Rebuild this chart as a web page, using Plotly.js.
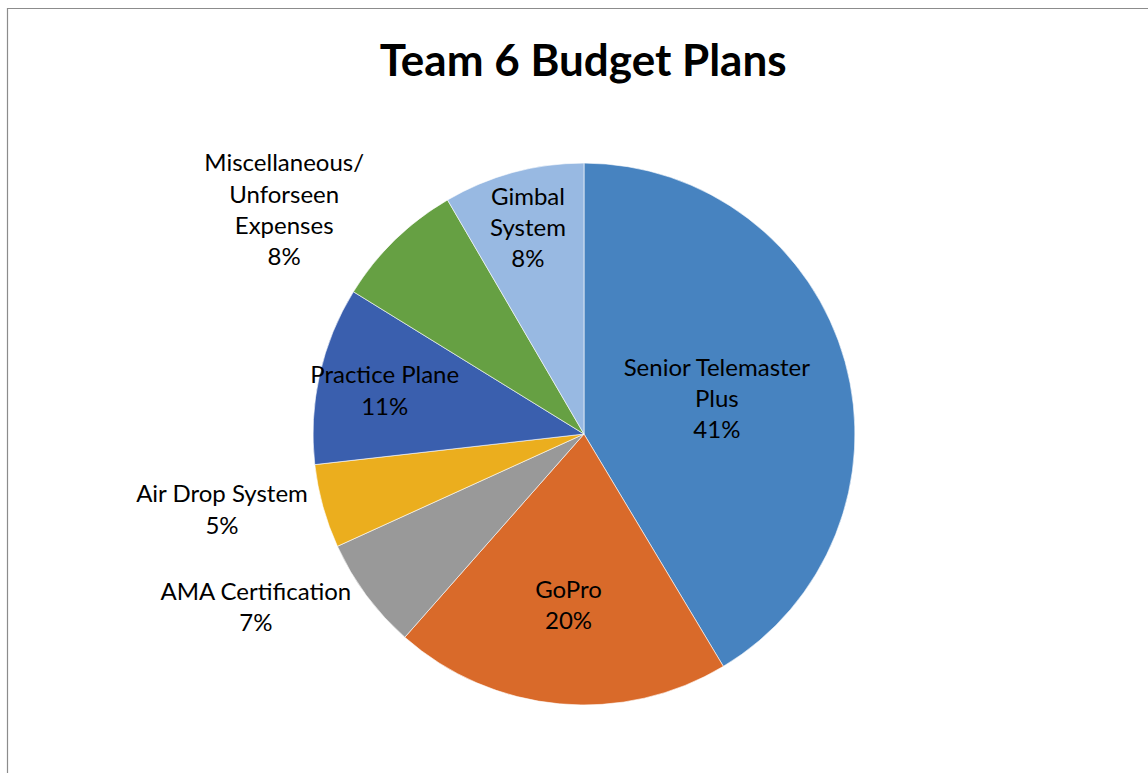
<!DOCTYPE html>
<html>
<head>
<meta charset="utf-8">
<script src="https://cdn.plot.ly/plotly-3.0.1.min.js"></script>
<style>html,body{margin:0;padding:0;background:#fff;}#chart{width:1148px;height:773px;}</style>
</head>
<body>
<div id="chart"></div>
<script>
var categories = ["Senior Telemaster Plus", "GoPro", "AMA Certification", "Air Drop System", "Practice Plane", "Miscellaneous/ Unforseen Expenses", "Gimbal System"];
var displayNames = ["Senior Telemaster<br>Plus", "GoPro", "AMA Certification", "Air Drop System", "Practice Plane", "Miscellaneous/<br>Unforseen<br>Expenses", "Gimbal<br>System"];
var values = [41.4, 20.1, 6.7, 5.0, 10.6, 7.8, 8.4];
var colors = ["#4783C0", "#D96A2A", "#999999", "#EBAE1E", "#3A5FAE", "#66A043", "#98B9E2"];
var positions = ["inside", "inside", "outside", "outside", "inside", "outside", "inside"];

var trace = {
  type: "pie",
  labels: categories,
  values: values,
  customdata: displayNames,
  sort: false,
  direction: "clockwise",
  rotation: 0,
  marker: {colors: colors, line: {color: "#ffffff", width: 0.6}},
  texttemplate: "%{customdata}<br>%{percent:.0%}",
  textposition: positions,
  insidetextorientation: "horizontal",
  textfont: {family: "Lato, 'Open Sans', sans-serif", size: 24, color: "#000000"},
  outsidetextfont: {family: "Lato, 'Open Sans', sans-serif", size: 24, color: "#000000"},
  hoverinfo: "label+percent",
  domain: {x: [0.2726, 0.7448], y: [0.088, 0.789]},
  automargin: false
};

var layout = {
  width: 1148,
  height: 773,
  margin: {l: 0, r: 0, t: 0, b: 0},
  paper_bgcolor: "#ffffff",
  showlegend: false,
  uniformtext: {minsize: 24, mode: "show"},
  title: {
    text: "<b>Team 6 Budget Plans</b>",
    font: {family: "Lato, 'Open Sans', sans-serif", size: 44, color: "#000000"},
    x: 0.508, xanchor: "center",
    y: 0.922, yanchor: "middle"
  },
  shapes: [{
    type: "rect", xref: "paper", yref: "paper",
    x0: 7.5/1148, x1: 1.02, y0: -0.02, y1: 1 - 8.5/773,
    line: {color: "#8c8c8c", width: 1.2}, fillcolor: "rgba(0,0,0,0)"
  }]
};

Plotly.newPlot("chart", [trace], layout, {displayModeBar: false, staticPlot: true});
</script>
</body>
</html>
